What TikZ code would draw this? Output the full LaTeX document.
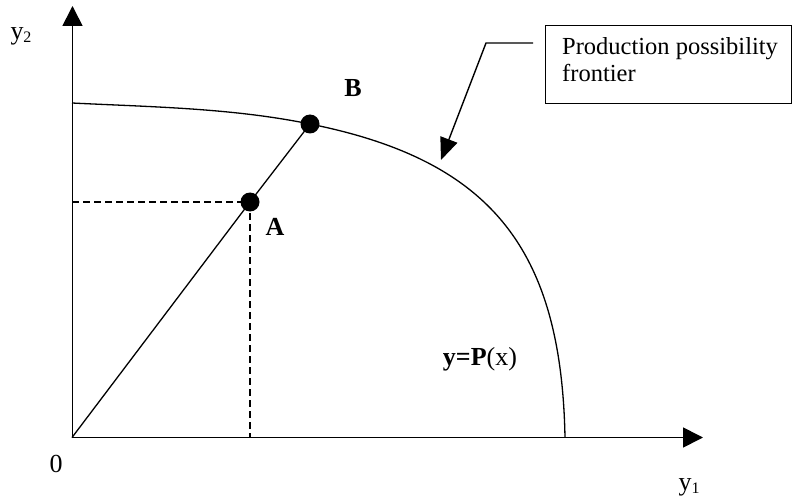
\documentclass[tikz,border=0pt]{standalone}
\usepackage{fontspec}
\setmainfont{Liberation Serif}
\usetikzlibrary{arrows.meta}
\begin{document}
\begin{tikzpicture}[x=1pt,y=-1pt,
  axis/.style={line width=1.7pt,-{Triangle[length=20pt,width=20pt]}},
  curve/.style={line width=1.3pt},
  guide/.style={line width=1.2pt,dash pattern=on 7pt off 4pt},
  dot/.style={circle,fill=black,inner sep=0pt,minimum size=19pt},
  lbl/.style={font=\fontsize{26}{28}\selectfont,inner sep=0pt},
  blbl/.style={font=\fontsize{26}{28}\selectfont\bfseries,inner sep=0pt},
  boxframe/.style={draw,line width=1.3pt,inner sep=0pt,anchor=north west,minimum width=246pt,minimum height=78pt},
  boxtext/.style={font=\fontsize{24.5}{27}\selectfont,align=left,inner sep=0pt,anchor=base west},
  leader/.style={line width=1.4pt,-{Triangle[length=22pt,width=18pt]}}]
\useasboundingbox (0,0) rectangle (793,500);
\coordinate (O) at (72,437.5);
\coordinate (ytip) at (72.5,6);
\coordinate (xtip) at (703,437.5);
\coordinate (Ax) at (250,437.5);
\coordinate (Ay) at (72,202);
\coordinate (F0) at (72,103);
\coordinate (F1) at (565,437.5);
\coordinate (lk1) at (533,43);
\coordinate (lk2) at (486,43);
\coordinate (ltip) at (441,160);
% ray and dashed guides
\node[dot] (A) at (250,202) {};
\node[dot] (B) at (310,124) {};
% frontier
\draw[curve] (F0) .. controls (152,107) and (231.6,108) .. (B.center)
  .. controls (490,160) and (561.4,247.8) .. (F1);
\draw[curve] (O) -- (A.center) -- (B.center);
\draw[guide] (Ay) -- (A.center);
\draw[guide] (A.center) -- (Ax);
% axes
\draw[axis] (72.5,438) -- (ytip);
\draw[axis] (71.7,437.5) -- (xtip);
% labels
\node[lbl] (y2) at (21,36) {y{\fontsize{16}{16}\selectfont\raisebox{-3pt}{2}}};
\node[lbl] (y1) at (689,487) {y{\fontsize{16}{16}\selectfont\raisebox{-3pt}{1}}};
\node[lbl,anchor=base] (zero) at (56,472) {0};
\node[blbl,anchor=base] (Bl) at (353,97) {B};
\node[blbl,anchor=base] (Al) at (275,236) {A};
\node[lbl,anchor=base] (P) at (480,365) {\textbf{y=P}(x)};
% callout box
\node[boxframe] (box) at (545,25) {};
\node[boxtext] (t1) at (562,55) {Production possibility};
\node[boxtext] (t2) at (562,82) {frontier};
\draw[leader] (lk1) -- (lk2) -- (ltip);
\end{tikzpicture}
\end{document}
